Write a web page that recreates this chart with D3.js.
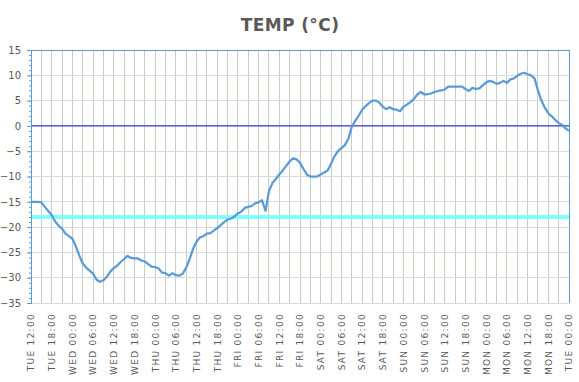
<!DOCTYPE html>
<html><head><meta charset="utf-8">
<script src="https://cdn.jsdelivr.net/npm/d3@7"></script>
<style>
html,body{margin:0;padding:0;background:#fff;}
svg{display:block;}
text{font-family:"DejaVu Sans",Verdana,sans-serif;}
</style></head>
<body><svg id="c" width="579" height="382"></svg>
<script>
// Hourly temperature readings, starting TUE 12:00
const temps = [
-15.0,-15.0,-15.0,-15.1,-16.0,-16.8,-17.6,-18.9,-19.7,-20.3,
-21.3,-21.8,-22.3,-23.8,-25.6,-27.2,-28.0,-28.6,-29.2,-30.4,
-30.8,-30.5,-29.8,-28.8,-28.1,-27.6,-26.9,-26.3,-25.7,-26.1,
-26.2,-26.2,-26.6,-26.8,-27.3,-27.8,-27.9,-28.2,-29.0,-29.1,
-29.6,-29.1,-29.5,-29.6,-29.2,-28.0,-26.3,-24.3,-22.9,-22.0,
-21.8,-21.3,-21.2,-20.7,-20.2,-19.6,-19.0,-18.5,-18.3,-17.9,
-17.3,-16.9,-16.2,-16.0,-15.8,-15.3,-15.1,-14.7,-16.8,-12.9,
-11.3,-10.5,-9.6,-8.8,-7.9,-7.0,-6.4,-6.6,-7.3,-8.5,
-9.6,-10.0,-10.0,-10.0,-9.6,-9.2,-8.8,-7.5,-6.0,-5.0,
-4.4,-3.8,-2.6,-0.2,1.0,2.0,3.2,3.9,4.5,5.0,
5.0,4.6,3.8,3.3,3.7,3.3,3.2,2.9,3.8,4.2,
4.7,5.3,6.2,6.7,6.25,6.25,6.4,6.7,6.9,7.0,
7.2,7.75,7.75,7.75,7.75,7.75,7.3,6.9,7.5,7.3,
7.4,8.0,8.6,8.9,8.7,8.3,8.5,8.9,8.5,9.2,
9.4,9.9,10.3,10.5,10.2,10.0,9.4,7.0,5.0,3.6,
2.5,1.9,1.2,0.6,0.2,-0.5,-1.0
];
const tickLabels = [
"TUE 12:00","TUE 18:00","WED 00:00","WED 06:00","WED 12:00","WED 18:00",
"THU 00:00","THU 06:00","THU 12:00","THU 18:00","FRI 00:00","FRI 06:00",
"FRI 12:00","FRI 18:00","SAT 00:00","SAT 06:00","SAT 12:00","SAT 18:00",
"SUN 00:00","SUN 06:00","SUN 12:00","SUN 18:00","MON 00:00","MON 06:00",
"MON 12:00","MON 18:00","TUE 00:00"
];
const yTicks = [-35,-30,-25,-20,-15,-10,-5,0,5,10,15];
const referenceLines = [0, -18];
const title = "TEMP (°C)";

const svg = d3.select("#c");
const L = 31, R = 569, T = 50, B = 303;
const n = temps.length;
const x = d3.scaleLinear().domain([0, n - 1]).range([L, R]);
const y = d3.scaleLinear().domain([-35, 15]).range([B, T]);

// title
svg.append("text").attr("x", 290).attr("y", 31).attr("text-anchor", "middle")
  .attr("font-size", 17).attr("font-weight", "bold").attr("fill", "#595959")
  .attr("letter-spacing", 0.4).text(title);

// vertical gridlines every 3 hours
const vIdx = d3.range(0, n, 3);
svg.append("g").selectAll("line").data(vIdx).join("line")
  .attr("x1", d => x(d)).attr("x2", d => x(d)).attr("y1", T).attr("y2", B)
  .attr("stroke", "#C5CDC5").attr("stroke-width", 1).attr("shape-rendering", "crispEdges");

// horizontal gridlines
svg.append("g").selectAll("line").data(yTicks).join("line")
  .attr("x1", L).attr("x2", R).attr("y1", d => y(d)).attr("y2", d => y(d))
  .attr("stroke", "#D9D9D9").attr("stroke-width", 1).attr("shape-rendering", "crispEdges");

// borders: top and right blue
svg.append("line").attr("x1", L).attr("x2", R).attr("y1", y(15)).attr("y2", y(15))
  .attr("stroke", "#5B9BD5").attr("stroke-width", 1).attr("shape-rendering", "crispEdges");
svg.append("line").attr("x1", R).attr("x2", R).attr("y1", T).attr("y2", B)
  .attr("stroke", "#5B9BD5").attr("stroke-width", 1).attr("shape-rendering", "crispEdges");

// reference lines
svg.append("line").attr("x1", L).attr("x2", R).attr("y1", y(referenceLines[1])).attr("y2", y(referenceLines[1]))
  .attr("stroke", "#80FFFF").attr("stroke-width", 4);
svg.append("line").attr("x1", L).attr("x2", R).attr("y1", y(referenceLines[0])).attr("y2", y(referenceLines[0]))
  .attr("stroke", "#3B3BCB").attr("stroke-width", 1.3);

// data line
svg.append("path").datum(temps)
  .attr("fill", "none").attr("stroke", "#5B9BD5").attr("stroke-width", 2.25)
  .attr("stroke-linejoin", "round")
  .attr("d", d3.line().x((d, i) => x(i)).y(d => y(d)));

// y axis minor ticks
const yMinor = d3.axisLeft(y).tickValues(d3.range(-35, 16, 1)).tickSize(2).tickFormat("");
svg.append("g").attr("transform", `translate(${L},0)`).call(yMinor)
  .call(g => g.selectAll("line").attr("stroke", "#5B9BD5"))
  .call(g => g.select(".domain").remove());
// y axis major
const yAxis = d3.axisLeft(y).tickValues(yTicks).tickSize(4).tickPadding(6);
svg.append("g").attr("transform", `translate(${L},0)`).call(yAxis)
  .call(g => g.select(".domain").attr("stroke", "#5B9BD5").attr("shape-rendering", "crispEdges"))
  .call(g => g.selectAll("line").attr("stroke", "#5B9BD5"))
  .call(g => g.selectAll("text").attr("font-size", 10).attr("fill", "#595959")
     .attr("font-family", "DejaVu Sans, sans-serif"));

// x axis labels
const xIdx = d3.range(0, n, 6);
const xAxis = d3.axisBottom(x).tickValues(xIdx).tickSize(0).tickPadding(0)
  .tickFormat((d, i) => tickLabels[i]);
svg.append("g").attr("transform", `translate(0,${B})`).call(xAxis)
  .call(g => g.select(".domain").attr("stroke", "#D9D9D9").attr("shape-rendering", "crispEdges"))
  .call(g => g.selectAll("text")
     .attr("font-size", 9).attr("fill", "#595959").attr("letter-spacing", 1.3)
     .attr("font-family", "DejaVu Sans, sans-serif")
     .attr("text-anchor", "end").attr("dy", "0.32em")
     .attr("transform", "translate(0,10) rotate(-90)").attr("x", 0).attr("y", 0));
</script></body></html>
